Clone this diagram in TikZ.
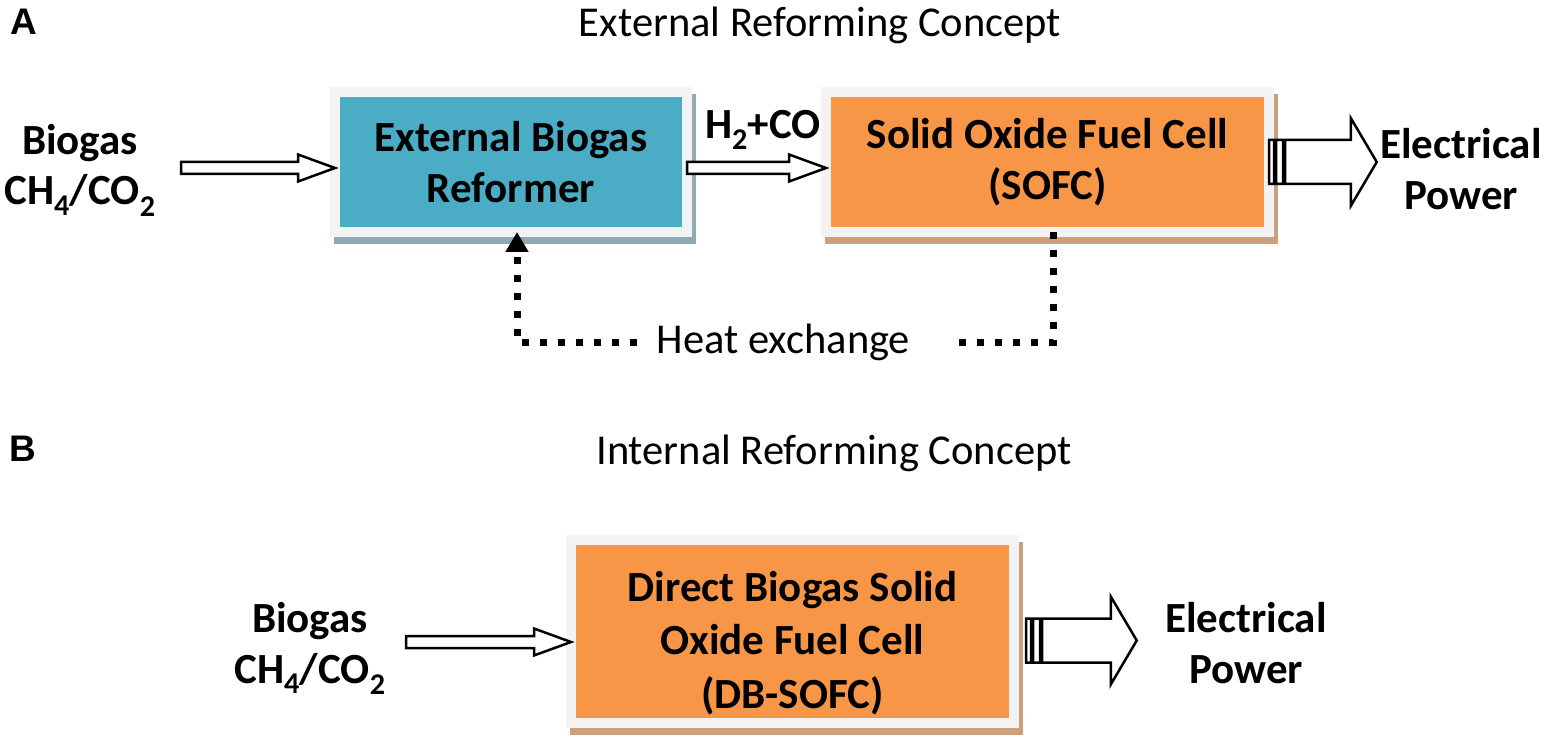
\documentclass[tikz,border=0pt]{standalone}
\usepackage{fontspec}
\setmainfont{Carlito}
\newfontfamily\panelfont{Liberation Sans}
\usetikzlibrary{shadows,calc,arrows.meta}
\definecolor{reformblue}{RGB}{75,172,198}
\definecolor{cellorange}{RGB}{247,150,70}
\definecolor{framegray}{RGB}{243,243,243}
\definecolor{shadowblue}{RGB}{143,170,181}
\definecolor{shadowtan}{RGB}{204,160,124}

\begin{document}
\begin{tikzpicture}[x=1pt,y=-1pt]
    \tikzstyle{every node}=[font=\fontsize{42.5}{50}\selectfont]
    \tikzstyle{unit}=[draw=framegray, line width=10pt, inner sep=0pt, outer sep=0pt, align=center, font=\bfseries\fontsize{43}{51}\selectfont]
    \tikzstyle{reformer}=[unit, fill=reformblue, drop shadow={shadow xshift=4pt, shadow yshift=-7pt, opacity=1, fill=shadowblue, draw=shadowblue}]
    \tikzstyle{cell}=[unit, fill=cellorange, drop shadow={shadow xshift=4pt, shadow yshift=-7pt, opacity=1, fill=shadowtan, draw=shadowtan}]
    \tikzstyle{stream}=[align=center, font=\bfseries\fontsize{43}{51}\selectfont]
    \tikzstyle{panel}=[font=\panelfont\bfseries\fontsize{37}{44}\selectfont]
    \tikzstyle{block arrow}=[draw=black, fill=white, line width=2.5pt, line join=miter]
    \tikzstyle{heat line}=[line width=7pt, dash pattern=on 7pt off 11pt]

    % Hollow block arrow from #1 to the tip #2
    \def\blockarrow#1#2{
        \draw[block arrow] let \p1=(#1), \p2=(#2) in
            (\x1,\y1+6pt) -- (\x2-37pt,\y1+6pt) -- (\x2-37pt,\y1+13.5pt) -- (\x2,\y1)
            -- (\x2-37pt,\y1-13.5pt) -- (\x2-37pt,\y1-6pt) -- (\x1,\y1-6pt) -- cycle;}
    % Striped block arrow from #1 to the tip #2
    \def\stripedarrow#1#2{
        \draw[block arrow] let \p1=(#1), \p2=(#2) in
            (\x1,\y1-22pt) rectangle (\x1+5pt,\y1+22pt)
            (\x1+7pt,\y1-22pt) rectangle (\x1+14pt,\y1+22pt)
            (\x1+16pt,\y1+22pt) -- (\x2-26pt,\y1+22pt) -- (\x2-26pt,\y1+44pt) -- (\x2,\y1)
            -- (\x2-26pt,\y1-44pt) -- (\x2-26pt,\y1-22pt) -- (\x1+16pt,\y1-22pt) -- cycle;}

    \useasboundingbox (0,0) rectangle (1547,743);

    % Panel A: external reforming
    \node[panel] (labelA) at (24,22) {A};
    \node (titleA) at (820,25) {External Reforming Concept};
    \node[stream] (bioA) at (80,170) {Biogas\\CH\textsubscript{4}/CO\textsubscript{2}};
    \node[reformer, minimum width=352pt, minimum height=140pt] (er) at (511,162) {External Biogas\\Reformer};
    \node[cell, minimum width=443pt, minimum height=140pt] (sofc) at (1047.5,162) {Solid Oxide Fuel Cell\\(SOFC)};
    \node[stream] (h2co) at (763,130) {H\textsubscript{2}+CO};
    \node[stream] (powA) at (1461,169) {Electrical\\Power};
    \node (heat) at (783.5,342) {Heat exchange};

    \blockarrow{[xshift=22pt,yshift=2pt]bioA.east}{er.west}
    \blockarrow{[yshift=-6pt]er.east}{sofc.west}
    \stripedarrow{sofc.east}{powA.west}

    % Heat returned from the cell to the reformer
    \draw[heat line] ([xshift=6pt]sofc.south) |- ([xshift=36pt]heat.east);
    \draw[heat line, -{Triangle[width=22pt,length=20pt]}] ([xshift=-16pt]heat.west) -| ([xshift=6pt]er.south);

    % Panel B: internal reforming
    \node[panel] (labelB) at (23,449) {B};
    \node (titleB) at (834,453) {Internal Reforming Concept};
    \node[stream] (bioB) at (310,648) {Biogas\\CH\textsubscript{4}/CO\textsubscript{2}};
    \node[cell, minimum width=443pt, minimum height=183pt, font=\bfseries\fontsize{43}{53.5}\selectfont] (dbsofc) at (792.5,631.5)
        {\rule{0pt}{53pt}Direct Biogas Solid\\Oxide Fuel Cell\\(DB-SOFC)};
    \node[stream] (powB) at (1246,643) {Electrical\\Power};

    \blockarrow{[xshift=17pt,yshift=6pt]bioB.east}{dbsofc.west}
    \stripedarrow{[xshift=12pt,yshift=-9pt]dbsofc.east}{[xshift=-25pt]powB.west}
\end{tikzpicture}
\end{document}
